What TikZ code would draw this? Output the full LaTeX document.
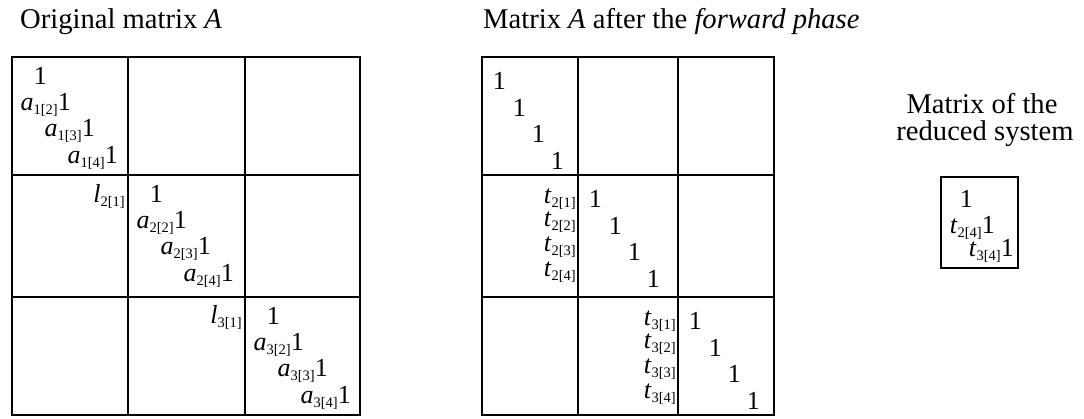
\documentclass[tikz,border=0pt]{standalone}
\usepackage{fontspec}
\setmainfont{Liberation Serif}
\newcommand{\mysub}[1]{\raisebox{-0.16em}{\fontsize{14.5}{14.5}\selectfont #1}}
\newcommand{\ent}[3]{\textit{#1}\mysub{#2[#3]}}
\tikzset{
  entry/.style={font=\fontsize{26}{26}\selectfont, inner sep=0pt, anchor=base east},
  ttl/.style={font=\fontsize{28.6}{28.6}\selectfont, inner sep=0pt},
  gridline/.style={line width=1.6pt, line cap=rect},
}
\begin{document}
\begin{tikzpicture}[x=1pt,y=-1pt]
\useasboundingbox (0,0) rectangle (1084,418);
% titles
\node[ttl, anchor=base west] (tA) at (20,28) {Original matrix \textit{A}};
\node[ttl, anchor=base west] (tB) at (483,28) {Matrix \textit{A} after the \textit{forward phase}};
\node[ttl, anchor=base] (tC1) at (982,113) {Matrix of the};
\node[ttl, anchor=base] (tC2) at (985,140) {reduced system};
% left grid
\draw[gridline] (12,57) rectangle (360,415);
\draw[gridline] (128,57) -- (128,415) (245,57) -- (245,415) (12,175) -- (360,175) (12,297) -- (360,297);
% middle grid
\draw[gridline] (482,57) rectangle (774,415);
\draw[gridline] (578,57) -- (578,415) (678,57) -- (678,415) (482,175) -- (774,175) (482,297) -- (774,297);
% small box
\draw[line width=1.4pt] (941,177) rectangle (1018,268);
% left grid entries
\foreach \k/\xo/\yo in {1/12/57, 2/128/175, 3/245/297}{
  \node[entry] (A\k-1) at (\xo+35,\yo+27) {1};
  \foreach \j/\r/\b in {2/59/53, 3/83/79, 4/106/106}{
    \node[entry] (A\k-\j) at (\xo+\r,\yo+\b) {\ent{a}{\k}{\j}1};
  }
}
\node[entry] (L2) at (125,202) {\ent{l}{2}{1}};
\node[entry] (L3) at (242,323) {\ent{l}{3}{1}};
% middle grid entries
\foreach \k/\xo/\yo in {1/482/57, 2/578/175, 3/678/297}{
  \foreach \j/\r/\b in {1/24/32, 2/44/59, 3/63/85, 4/82/112}{
    \node[entry] (B\k-\j) at (\xo+\r,\yo+\b) {1};
  }
}
\foreach \k/\xo/\yo in {2/578/175, 3/678/297}{
  \foreach \j/\b in {1/28, 2/51, 3/76, 4/101}{
    \node[entry] (T\k-\j) at (\xo-2,\yo+\b) {\ent{t}{\k}{\j}};
  }
}
% reduced system entries
\node[entry] (R1) at (973,207) {1};
\node[entry] (R2) at (995,233) {\ent{t}{2}{4}1};
\node[entry] (R3) at (1014,256) {\ent{t}{3}{4}1};
\end{tikzpicture}
\end{document}
